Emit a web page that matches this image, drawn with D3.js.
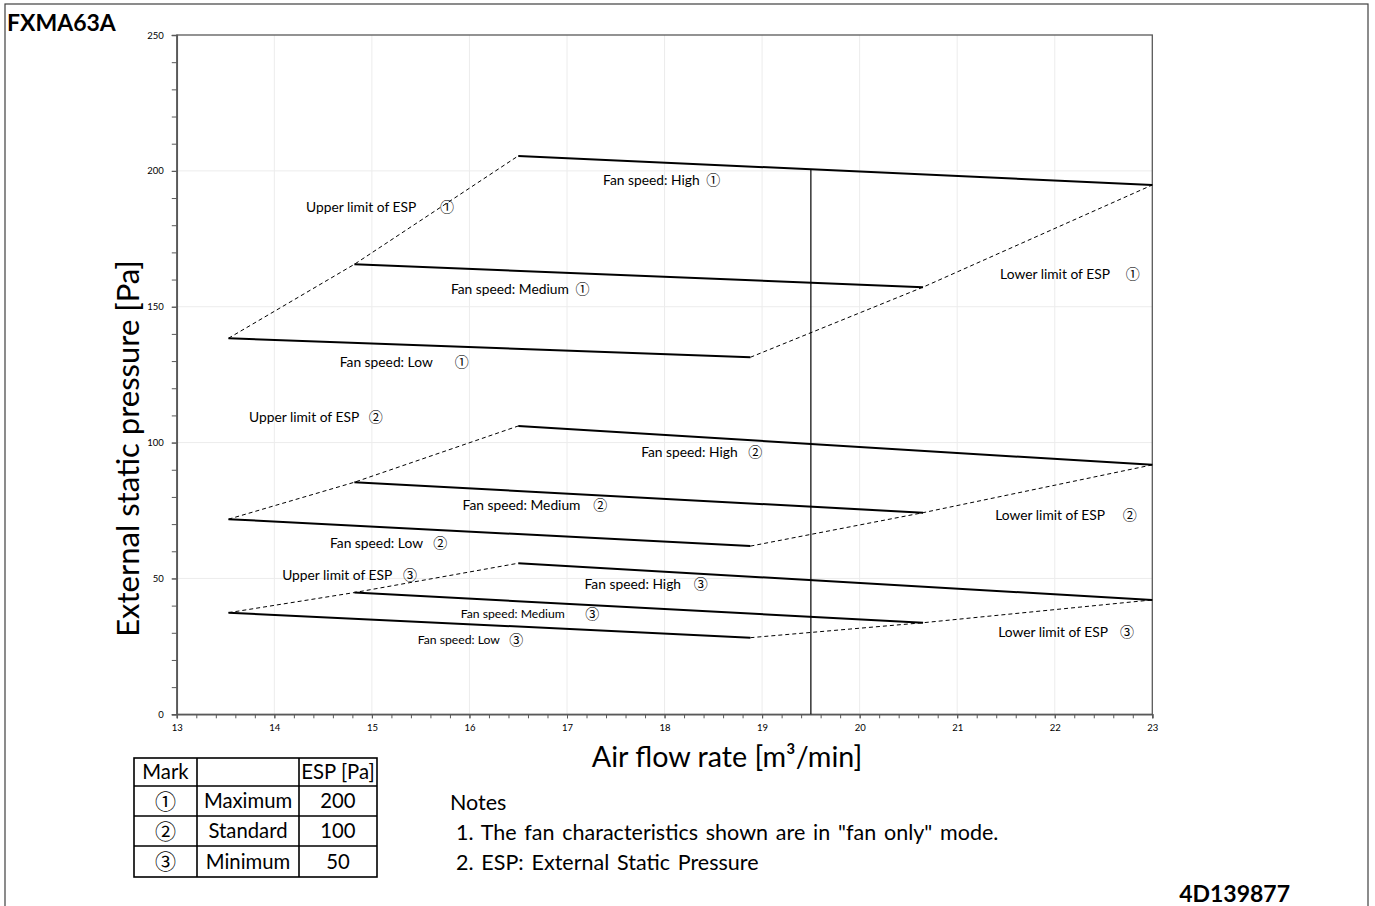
<!DOCTYPE html>
<html>
<head>
<meta charset="utf-8">
<script src="https://cdn.jsdelivr.net/npm/d3@7/dist/d3.min.js"></script>
<style>
  html, body { margin: 0; padding: 0; background: #fff; }
  svg { display: block; }
  text { font-family: Lato, "Open Sans", sans-serif; fill: #000; }
  .circ { font-family: "Noto Sans CJK JP", "Noto Sans CJK SC", "DejaVu Sans", sans-serif; }
</style>
</head>
<body>
<svg id="chart" width="1375" height="906"></svg>
<script>
// ---------- data ----------
const chartTitle = "FXMA63A";
const docCode = "4D139877";
const marks = ["①", "②", "③"];
const markNames = ["Maximum", "Standard", "Minimum"];
const espValues = [200, 100, 50];

// air flow rate [m3/min] at start / end of each fan-speed line
const flowLow = [13.53, 18.88];
const flowMedium = [14.82, 20.65];
const flowHigh = [16.50, 23.00];

// external static pressure [Pa] at start / end, one row per mark
const pressLow = [[138.4, 131.4], [71.8, 61.9], [37.4, 28.2]];
const pressMedium = [[165.6, 157.2], [85.4, 74.2], [44.8, 33.7]];
const pressHigh = [[205.5, 194.8], [106.1, 91.8], [55.6, 42.1]];

const ratedFlow = 19.5;

const xTicks = [13, 14, 15, 16, 17, 18, 19, 20, 21, 22, 23];
const yTicks = [0, 50, 100, 150, 200, 250];

// annotation labels: text, mark index, text x, mark x, y (data units), small?
const labelTexts = [
  ["Upper limit of ESP", 0, 14.325, 15.77, 186.7, false],
  ["Fan speed: High", 0, 17.37, 18.50, 196.7, false],
  ["Fan speed: Medium", 0, 15.81, 17.16, 156.5, false],
  ["Fan speed: Low", 0, 14.67, 15.92, 129.7, false],
  ["Lower limit of ESP", 0, 21.44, 22.80, 162.0, false],
  ["Upper limit of ESP", 1, 13.74, 15.04, 109.4, false],
  ["Fan speed: High", 1, 17.76, 18.93, 96.5, false],
  ["Fan speed: Medium", 1, 15.93, 17.34, 77.0, false],
  ["Fan speed: Low", 1, 14.57, 15.70, 63.1, false],
  ["Lower limit of ESP", 1, 21.39, 22.77, 73.4, false],
  ["Upper limit of ESP", 2, 14.08, 15.39, 51.3, false],
  ["Fan speed: High", 2, 17.18, 18.37, 47.9, false],
  ["Fan speed: Medium", 2, 15.91, 17.26, 36.9, true],
  ["Fan speed: Low", 2, 15.47, 16.48, 27.3, true],
  ["Lower limit of ESP", 2, 21.42, 22.74, 30.3, false]
];

const notesTitle = "Notes";
const notes = ['1. The fan characteristics shown are in "fan only" mode.', "2. ESP: External Static Pressure"];

// ---------- drawing ----------
const svg = d3.select("#chart");
const plot = { left: 176.8, right: 1152.3, top: 35, bottom: 714.3 };

const x = d3.scaleLinear().domain([13, 23]).range([plot.left, plot.right]);
const y = d3.scaleLinear().domain([0, 250]).range([plot.bottom, plot.top]);

// outer frame
svg.append("rect").attr("x", 5).attr("y", 4).attr("width", 1363).attr("height", 920)
  .attr("fill", "none").attr("stroke", "#404040").attr("stroke-width", 1.2);

// title
svg.append("text").attr("x", 7).attr("y", 31).attr("font-size", 23).attr("font-weight", "bold").text(chartTitle);
svg.append("text").attr("x", 1290).attr("y", 902).attr("text-anchor", "end")
  .attr("font-size", 23).attr("font-weight", "bold").text(docCode);

// gridlines
const grid = svg.append("g");
grid.selectAll(".vg").data(xTicks.slice(1, -1)).join("line")
  .attr("x1", d => x(d)).attr("x2", d => x(d)).attr("y1", plot.top).attr("y2", plot.bottom)
  .attr("stroke", "#ececec").attr("stroke-width", 1);
grid.selectAll(".hg").data(yTicks.slice(1, -1)).join("line")
  .attr("x1", plot.left).attr("x2", plot.right).attr("y1", d => y(d)).attr("y2", d => y(d))
  .attr("stroke", "#ececec").attr("stroke-width", 1);

// plot border
svg.append("rect").attr("x", plot.left).attr("y", plot.top)
  .attr("width", plot.right - plot.left).attr("height", plot.bottom - plot.top)
  .attr("fill", "none").attr("stroke", "#595959").attr("stroke-width", 1.3);

// minor ticks
const xMinor = d3.range(13, 23.0001, 0.2);
const yMinor = d3.range(0, 250.001, 10);
svg.append("g").attr("transform", `translate(0,${plot.bottom})`)
  .call(d3.axisBottom(x).tickValues(xMinor).tickSize(4).tickFormat(""))
  .call(g => g.select(".domain").remove())
  .call(g => g.selectAll("line").attr("stroke", "#595959"));
svg.append("g").attr("transform", `translate(${plot.left},0)`)
  .call(d3.axisLeft(y).tickValues(yMinor).tickSize(5).tickFormat(""))
  .call(g => g.select(".domain").remove())
  .call(g => g.selectAll("line").attr("stroke", "#595959"));

// axes
const xAxis = svg.append("g").attr("transform", `translate(0,${plot.bottom})`)
  .call(d3.axisBottom(x).tickValues(xTicks).tickSize(4).tickPadding(6).tickFormat(d3.format("d")));
xAxis.select(".domain").attr("stroke", "#595959").attr("stroke-width", 1.5);
xAxis.selectAll("line").attr("stroke", "#595959");
xAxis.selectAll("text").attr("font-size", 9.5).attr("fill", "#404040").attr("font-family", "Lato");

const yAxis = svg.append("g").attr("transform", `translate(${plot.left},0)`)
  .call(d3.axisLeft(y).tickValues(yTicks).tickSize(5).tickPadding(8).tickFormat(d3.format("d")));
yAxis.select(".domain").attr("stroke", "#595959").attr("stroke-width", 1.5);
yAxis.selectAll("line").attr("stroke", "#595959");
yAxis.selectAll("text").attr("font-size", 9.5).attr("fill", "#404040").attr("font-family", "Lato");

// axis titles
svg.append("text").attr("x", 727).attr("y", 767).attr("text-anchor", "middle")
  .attr("font-size", 28.7).text("Air flow rate [m³/min]");
svg.append("text").attr("transform", `translate(139,${(260 + 637) / 2}) rotate(-90)`)
  .attr("text-anchor", "middle").attr("font-size", 31).text("External static pressure [Pa]");

// lines
const line = d3.line().x(d => x(d[0])).y(d => y(d[1]));
const lg = svg.append("g");
marks.forEach((m, i) => {
  const low = [[flowLow[0], pressLow[i][0]], [flowLow[1], pressLow[i][1]]];
  const med = [[flowMedium[0], pressMedium[i][0]], [flowMedium[1], pressMedium[i][1]]];
  const high = [[flowHigh[0], pressHigh[i][0]], [flowHigh[1], pressHigh[i][1]]];
  [low, med, high].forEach(seg => {
    lg.append("path").attr("d", line(seg)).attr("fill", "none")
      .attr("stroke", "#000").attr("stroke-width", 2);
  });
  const upper = [low[0], med[0], high[0]];
  const lower = [low[1], med[1], high[1]];
  [upper, lower].forEach(seg => {
    lg.append("path").attr("d", line(seg)).attr("fill", "none")
      .attr("stroke", "#000").attr("stroke-width", 1).attr("stroke-dasharray", "4,3");
  });
});

// rated flow vertical line, up to High (①) line
const hiInterp = d3.scaleLinear().domain(flowHigh).range(pressHigh[0]);
svg.append("line").attr("x1", x(ratedFlow)).attr("x2", x(ratedFlow))
  .attr("y1", y(0)).attr("y2", y(hiInterp(ratedFlow)))
  .attr("stroke", "#000").attr("stroke-width", 1.2);

// annotation labels
const ann = svg.append("g");
labelTexts.forEach(([t, mi, tx, mx, ly, small]) => {
  const fs = small ? 12.2 : 13.8;
  ann.append("text").attr("x", x(tx)).attr("y", y(ly)).attr("dy", "0.35em")
    .attr("font-size", fs).text(t);
  ann.append("text").attr("class", "circ").attr("x", x(mx)).attr("y", y(ly)).attr("dy", "0.36em")
    .attr("text-anchor", "middle").attr("font-size", 14).text(marks[mi]);
});

// legend table
const tbl = svg.append("g");
const colX = [134, 197, 299, 377];
const rowY = [758, 786, 816, 846, 877];
const cells = [["Mark", "", "ESP [Pa]"]].concat(marks.map((m, i) => [m, markNames[i], String(espValues[i])]));
tbl.append("rect").attr("x", colX[0]).attr("y", rowY[0]).attr("width", colX[3] - colX[0])
  .attr("height", rowY[4] - rowY[0]).attr("fill", "none").attr("stroke", "#000").attr("stroke-width", 1.6);
colX.slice(1, 3).forEach(cx => tbl.append("line").attr("x1", cx).attr("x2", cx)
  .attr("y1", rowY[0]).attr("y2", rowY[4]).attr("stroke", "#000").attr("stroke-width", 1.6));
rowY.slice(1, 4).forEach(ry => tbl.append("line").attr("x1", colX[0]).attr("x2", colX[3])
  .attr("y1", ry).attr("y2", ry).attr("stroke", "#000").attr("stroke-width", 1.6));
cells.forEach((row, r) => {
  row.forEach((c, ci) => {
    tbl.append("text").attr("class", (r > 0 && ci === 0) ? "circ" : null)
      .attr("x", (colX[ci] + colX[ci + 1]) / 2).attr("y", (rowY[r] + rowY[r + 1]) / 2)
      .attr("dy", "0.36em").attr("text-anchor", "middle")
      .attr("font-size", (r > 0 && ci === 0) ? 21 : 20.3).text(c);
  });
});

// notes
svg.append("text").attr("x", 450).attr("y", 802).attr("dy", "0.35em").attr("font-size", 21.5).text(notesTitle);
notes.forEach((n, i) => {
  svg.append("text").attr("x", 456).attr("y", 832 + i * 30).attr("dy", "0.35em")
    .attr("font-size", 21.5).attr("word-spacing", 2.3).text(n);
});
</script>
</body>
</html>
